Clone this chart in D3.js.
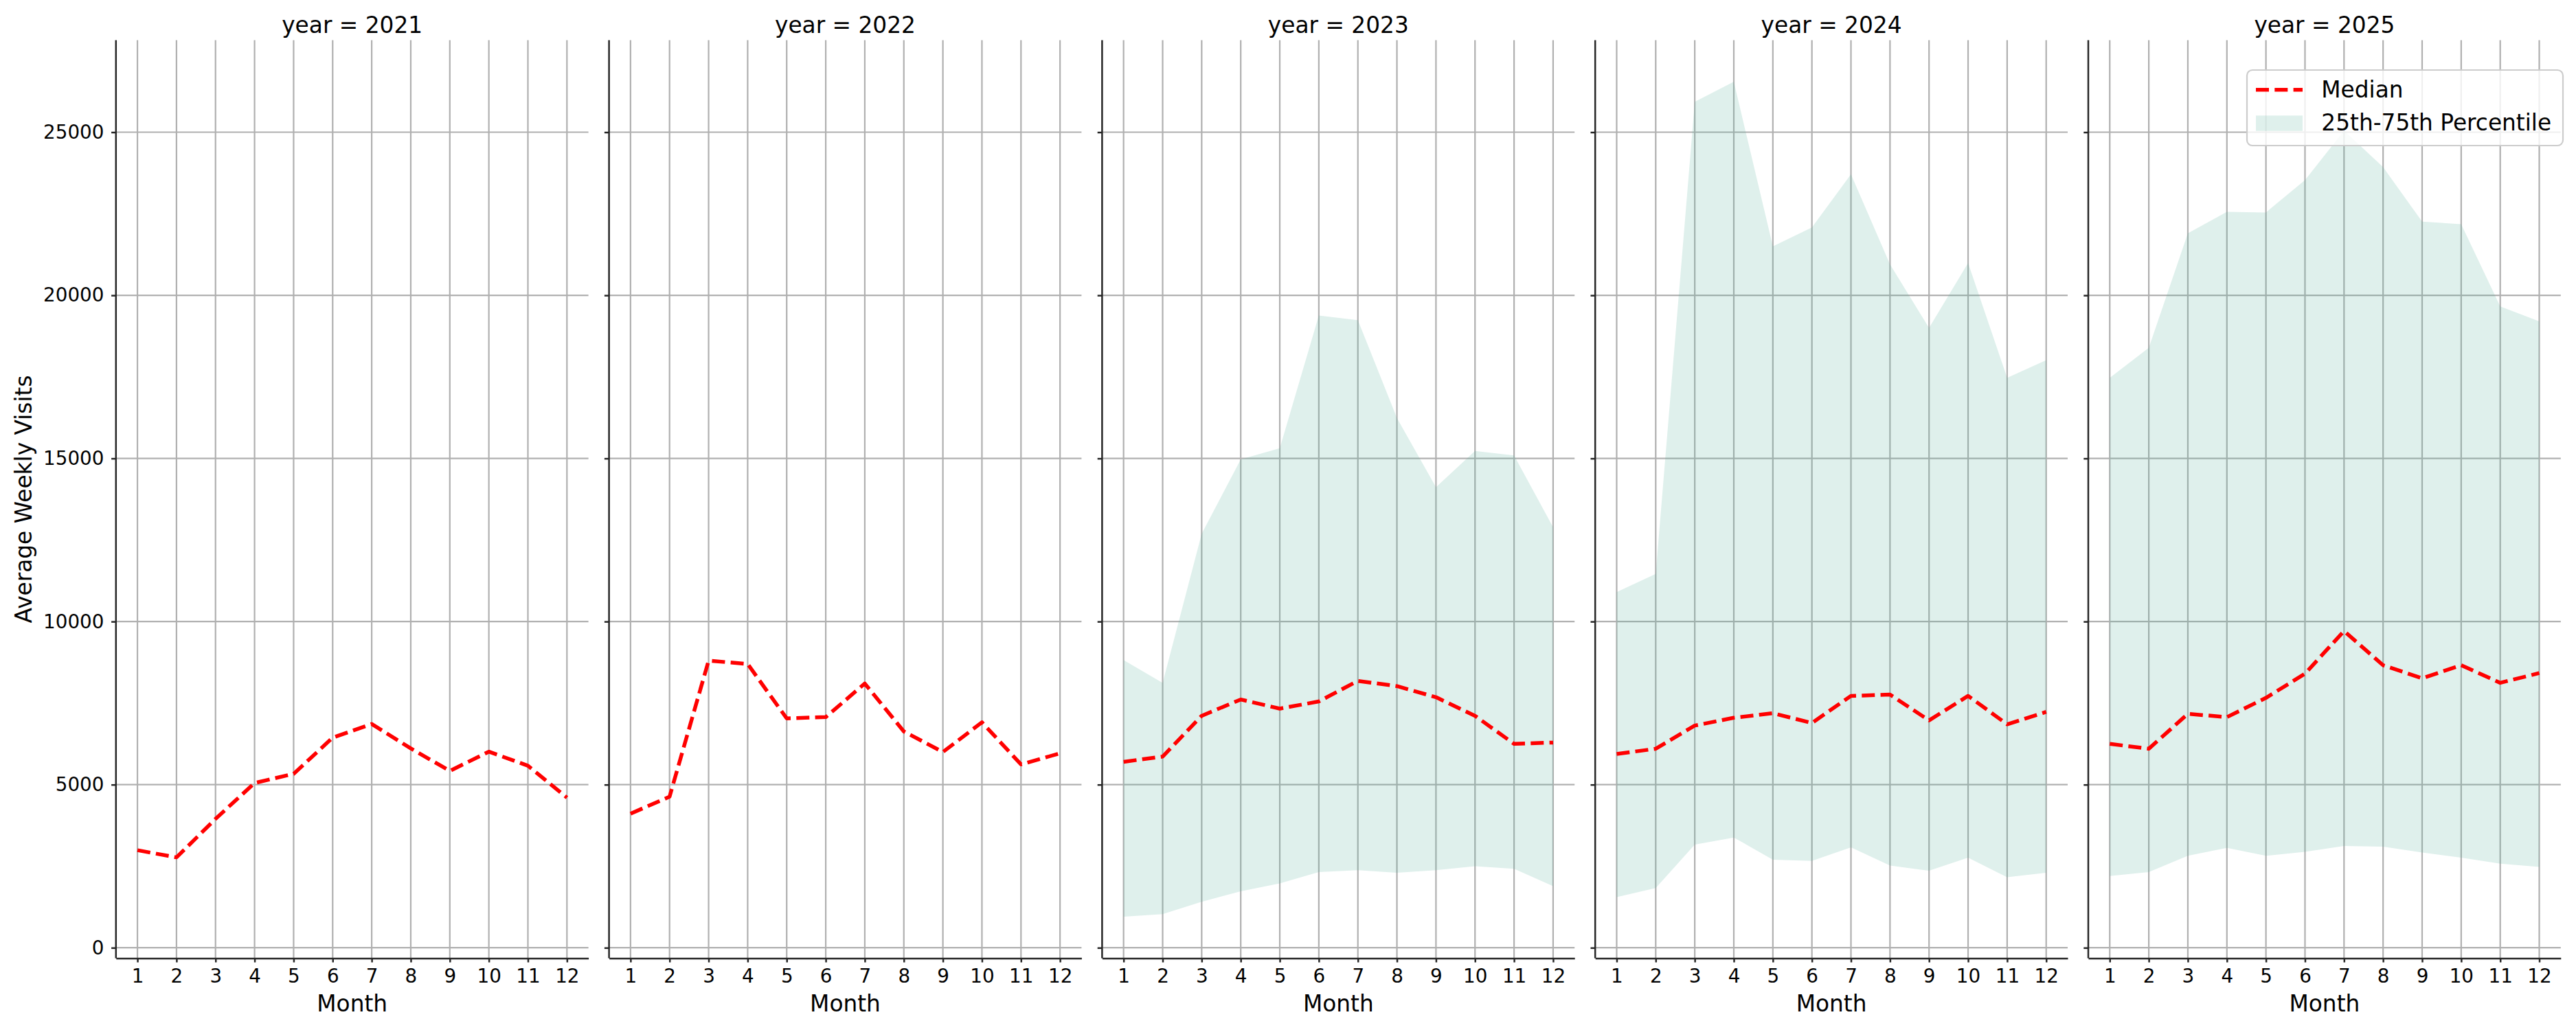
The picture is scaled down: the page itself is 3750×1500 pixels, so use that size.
<!DOCTYPE html>
<html><head><meta charset="utf-8">
<script src="https://cdn.jsdelivr.net/npm/d3@7"></script>
<style>
body{margin:0;background:#fff}
svg{display:block}
text{font-family:"DejaVu Sans",sans-serif;fill:#000}
</style>
</head><body><svg id="c" width="3750" height="1500"></svg>
<script>
// ---------- data ----------
const years = [2021, 2022, 2023, 2024, 2025];
const months = [1,2,3,4,5,6,7,8,9,10,11,12];
const yTicks = [0, 5000, 10000, 15000, 20000, 25000];

const median2021 = [2990, 2770, 3950, 5050, 5330, 6440, 6860, 6110, 5420, 6010, 5580, 4600];
const median2022 = [4110, 4630, 8800, 8700, 7030, 7070, 8100, 6630, 6000, 6910, 5620, 5960];
const median2023 = [5700, 5860, 7110, 7610, 7330, 7550, 8180, 8020, 7680, 7110, 6250, 6290];
const median2024 = [5940, 6100, 6810, 7050, 7190, 6890, 7720, 7760, 6970, 7720, 6850, 7230];
const median2025 = [6250, 6100, 7170, 7070, 7660, 8400, 9710, 8660, 8260, 8660, 8120, 8420];

const p25_2023 = [950, 1030, 1410, 1730, 1970, 2320, 2380, 2300, 2380, 2500, 2420, 1890];
const p75_2023 = [8820, 8120, 12690, 14970, 15310, 19380, 19240, 16240, 14120, 15230, 15090, 12890];
const p25_2024 = [1550, 1830, 3160, 3380, 2700, 2660, 3080, 2520, 2360, 2760, 2160, 2300];
const p75_2024 = [10900, 11460, 25930, 26550, 21500, 22080, 23710, 20950, 19000, 20990, 17470, 18010];
const p25_2025 = [2200, 2320, 2820, 3060, 2820, 2940, 3120, 3100, 2920, 2760, 2580, 2480];
const p75_2025 = [17470, 18390, 21900, 22560, 22540, 23530, 25050, 23930, 22260, 22180, 19660, 19200];

const medians = [median2021, median2022, median2023, median2024, median2025];
const p25s = [null, null, p25_2023, p25_2024, p25_2025];
const p75s = [null, null, p75_2023, p75_2024, p75_2025];

// ---------- layout ----------
const svg = d3.select("#c");
const left0 = 168.8, step = 717.8, panelW = 687.8, axTop = 58.4, axBottom = 1395.5;
const FS_TICK = 27.8, FS_LAB = 32.8;
const gridColor = "#b0b0b0", spineColor = "#262626";
const fillColor = "rgb(95,180,160)", fillOpacity = 0.2;
const lineW = 5.5, dash = "19,8.3";

const y = d3.scaleLinear().domain([-322, 27823]).range([axBottom, axTop]);

years.forEach((yr, i) => {
  const g = svg.append("g").attr("transform", `translate(${left0 + i*step},0)`);
  const x = d3.scaleLinear().domain([0.45, 12.55]).range([0, panelW]);

  // grid
  g.append("g").selectAll("line").data(months).join("line")
    .attr("x1", d => x(d)).attr("x2", d => x(d))
    .attr("y1", axTop).attr("y2", axBottom)
    .attr("stroke", gridColor).attr("stroke-width", 2.2);
  g.append("g").selectAll("line").data(yTicks).join("line")
    .attr("x1", 0).attr("x2", panelW)
    .attr("y1", d => y(d)).attr("y2", d => y(d))
    .attr("stroke", gridColor).attr("stroke-width", 2.2);

  // IQR band
  if (p25s[i]) {
    const area = d3.area()
      .x((d, k) => x(months[k]))
      .y0((d, k) => y(p25s[i][k]))
      .y1((d, k) => y(p75s[i][k]));
    g.append("path").datum(months).attr("d", area)
      .attr("fill", fillColor).attr("fill-opacity", fillOpacity);
  }

  // median line
  const line = d3.line().x((d, k) => x(months[k])).y(d => y(d));
  g.append("path").datum(medians[i]).attr("d", line)
    .attr("fill", "none").attr("stroke", "red")
    .attr("stroke-width", lineW).attr("stroke-dasharray", dash)
    .attr("stroke-linejoin", "round");

  // axes
  const ax = d3.axisLeft(y).tickValues(yTicks).tickSize(6.7).tickPadding(10.6).tickSizeOuter(0)
    .tickFormat(i === 0 ? d3.format("d") : () => "");
  const gy = g.append("g").call(ax);
  const bx = d3.axisBottom(x).tickValues(months).tickSize(6).tickPadding(10).tickSizeOuter(0)
    .tickFormat(d3.format("d"));
  const gx = g.append("g").attr("transform", `translate(0,${axBottom})`).call(bx);
  [gy, gx].forEach(a => {
    a.select(".domain").attr("stroke", spineColor).attr("stroke-width", 2.5);
    a.selectAll(".tick line").attr("stroke", spineColor).attr("stroke-width", 2.5);
    a.selectAll(".tick text").attr("font-size", FS_TICK).attr("font-family", "DejaVu Sans").attr("fill", "#000");
  });
  gy.select(".domain").attr("d", `M0,${axBottom}V${axTop}`);

  // titles and labels
  g.append("text").attr("x", panelW/2).attr("y", 48).attr("text-anchor", "middle")
    .attr("font-size", FS_LAB).text(`year = ${yr}`);
  g.append("text").attr("x", panelW/2).attr("y", 1473).attr("text-anchor", "middle")
    .attr("font-size", FS_LAB).text("Month");
});

// y label
svg.append("text").attr("transform", `translate(45.6,${(axTop+axBottom)/2}) rotate(-90)`)
  .attr("text-anchor", "middle").attr("font-size", FS_LAB).text("Average Weekly Visits");

// legend (upper right of last panel)
const lg = svg.append("g");
lg.append("rect").attr("x", 3271).attr("y", 102).attr("width", 460).attr("height", 110)
  .attr("rx", 8).attr("fill", "#fff").attr("fill-opacity", 0.8)
  .attr("stroke", "#cccccc").attr("stroke-width", 2.2);
lg.append("line").attr("x1", 3284).attr("x2", 3352).attr("y1", 130.7).attr("y2", 130.7)
  .attr("stroke", "red").attr("stroke-width", lineW).attr("stroke-dasharray", dash);
lg.append("text").attr("x", 3379.3).attr("y", 141.7).attr("font-size", FS_LAB).text("Median");
lg.append("rect").attr("x", 3284).attr("y", 168.3).attr("width", 68).attr("height", 22.4)
  .attr("fill", fillColor).attr("fill-opacity", fillOpacity);
lg.append("text").attr("x", 3379.3).attr("y", 190).attr("font-size", FS_LAB).text("25th-75th Percentile");
</script>
</body></html>
